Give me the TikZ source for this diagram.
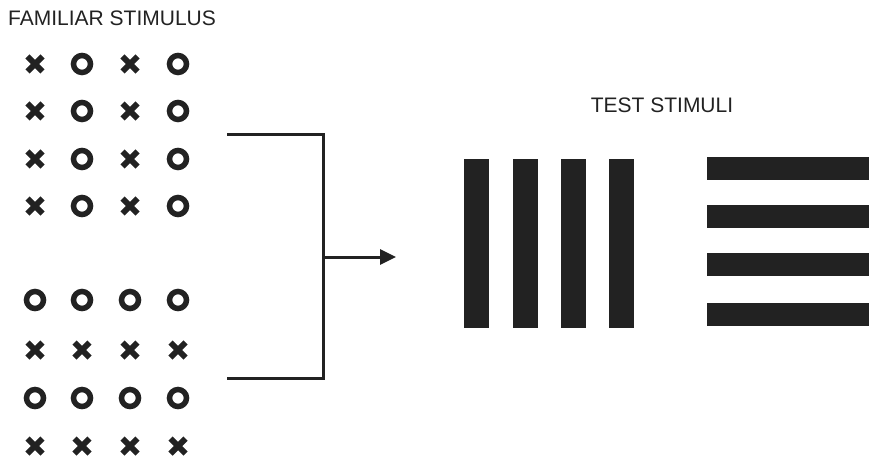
\documentclass[tikz,border=0pt]{standalone}
\usepackage{fontspec}
\setmainfont{Liberation Sans}
\usetikzlibrary{arrows.meta}
\definecolor{ink}{HTML}{222222}
\tikzset{
  xm/.pic={\draw[ink,line width=6pt] (-7.5,-7.5) -- (7.5,7.5) (-7.5,7.5) -- (7.5,-7.5);},
  om/.pic={\draw[ink,line width=5.5pt] (0,0) circle (8.5);},
  lbl/.style={font=\fontsize{21}{25}\selectfont, text=ink, inner sep=0pt},
  conn/.style={ink,line width=3pt},
  bar/.style={fill=ink,draw=none},
}
\begin{document}
\begin{tikzpicture}[x=1pt,y=-1pt]
\useasboundingbox (0,0) rectangle (869,465);
\node[lbl,anchor=west] (fam) at (8,18) {FAMILIAR STIMULUS};
\node[lbl] (test) at (662,105) {TEST STIMULI};
% top group
\foreach \y in {64,111,159,206}{
  \pic at (35,\y) {xm}; \pic at (82,\y) {om};
  \pic at (130,\y) {xm}; \pic at (178,\y) {om};
}
% bottom group
\foreach \x in {35,82,130,178}{
  \pic at (\x,300) {om};
  \pic at (\x,350) {xm};
  \pic at (\x,398) {om};
  \pic at (\x,446) {xm};
}
% bracket
\coordinate (t1) at (227,135);
\coordinate (t2) at (323,135);
\coordinate (b1) at (227,378);
\coordinate (b2) at (323,378);
\coordinate (m) at (323,257);
\coordinate (a) at (396,257);
\draw[conn,line cap=butt] (t1) -- (t2) -- (b2) -- (b1);
\draw[conn,-{Triangle[length=16pt,width=15pt]}] (m) -- (a);
% vertical grating
\foreach \x in {464,513,561,609}{
  \fill[bar] (\x,159) rectangle ++(24.5,169);
}
% horizontal grating
\foreach \y in {157,205,253,303}{
  \fill[bar] (707,\y) rectangle (869,\y+23);
}
\end{tikzpicture}
\end{document}
